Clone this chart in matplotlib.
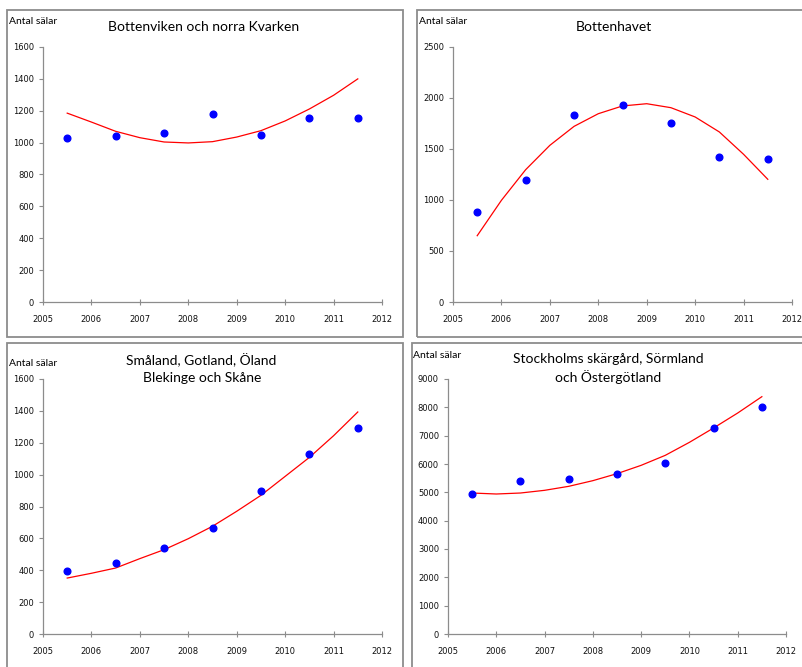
import numpy as np
import matplotlib.pyplot as plt
from matplotlib.patches import Rectangle

W, H = 802, 667

# years of the counts (plotted mid-year)
years = [2005.5, 2006.5, 2007.5, 2008.5, 2009.5, 2010.5, 2011.5]
trend_x = [2005.5, 2006, 2006.5, 2007, 2007.5, 2008, 2008.5,
           2009, 2009.5, 2010, 2010.5, 2011, 2011.5]

# Bottenviken och norra Kvarken
bv_counts = [1030, 1040, 1060, 1180, 1045, 1155, 1155]
bv_trend = [1185, 1129, 1071, 1031, 1004, 998, 1006, 1035, 1075, 1136, 1211, 1297, 1400]

# Bottenhavet
bh_counts = [880, 1200, 1830, 1930, 1750, 1420, 1400]
bh_trend = [650, 997, 1297, 1536, 1722, 1846, 1922, 1944, 1905, 1814, 1667, 1448, 1203]

# Småland, Gotland, Öland, Blekinge och Skåne
sg_counts = [393, 443, 540, 665, 899, 1127, 1292]
sg_trend = [351, 381, 414, 473, 529, 598, 676, 770, 870, 989, 1108, 1244, 1393]

# Stockholms skärgård, Sörmland och Östergötland
st_counts = [4930, 5410, 5480, 5650, 6030, 7260, 8010]
st_trend = [4976, 4941, 4976, 5071, 5212, 5412, 5659, 5953, 6306, 6765, 7271, 7800, 8376]

x_ticks = list(range(2005, 2013))

fig = plt.figure(figsize=(W / 100, H / 100), dpi=100)


def px_text(x, y, s, **kw):
    fig.text(x / W, 1 - y / H, s, **kw)


def box(x0, y0, x1, y1):
    fig.patches.append(Rectangle((x0 / W, 1 - y1 / H), (x1 - x0) / W, (y1 - y0) / H,
                                 transform=fig.transFigure, fill=False,
                                 edgecolor='#8c8c8c', linewidth=1.3))


def panel(x0, x1, ytop, ybot, counts, trend, ymax, ystep):
    ax = fig.add_axes([x0 / W, 1 - ybot / H, (x1 - x0) / W, (ybot - ytop) / H])
    ax.plot(trend_x, trend, color='red', linewidth=0.9)
    ax.plot(years, counts, 'o', color='blue', markersize=4.8)
    ax.set_xlim(2005, 2012)
    ax.set_ylim(0, ymax)
    ax.set_xticks(x_ticks)
    ax.set_yticks(np.arange(0, ymax + 1, ystep))
    for s in ['top', 'right']:
        ax.spines[s].set_visible(False)
    for s in ['left', 'bottom']:
        ax.spines[s].set_color('#8c8c8c')
        ax.spines[s].set_linewidth(0.9)
    ax.tick_params(axis='both', labelsize=6, colors='#8c8c8c', labelcolor='#111111',
                   length=3, width=0.8, direction='out')
    ax.tick_params(axis='x', direction='inout', length=4, pad=7)
    return ax


box(7, 10, 403, 337)
box(417, 10, 806, 337)
box(7, 343, 403, 671)
box(412, 343, 806, 671)

panel(43, 382, 47, 302, bv_counts, bv_trend, 1600, 200)
panel(453, 792, 47, 302, bh_counts, bh_trend, 2500, 500)
panel(43, 382, 379, 634, sg_counts, sg_trend, 1600, 200)
panel(448, 786, 379, 634, st_counts, st_trend, 9000, 1000)

tfont = dict(family='Lato', fontsize=10, ha='center', va='center')
px_text(204, 27, 'Bottenviken och norra Kvarken', **tfont)
px_text(614, 27, 'Bottenhavet', **tfont)
px_text(201, 360, 'Småland, Gotland, Öland', **tfont)
px_text(202, 378, 'Blekinge och Skåne', **tfont)
px_text(608, 359, 'Stockholms skärgård, Sörmland', **tfont)
px_text(608, 377, 'och Östergötland', **tfont)

lfont = dict(family='Lato', fontsize=7.5, ha='left', va='center')
px_text(9, 22, 'Antal sälar', **lfont)
px_text(419, 22, 'Antal sälar', **lfont)
px_text(9, 363, 'Antal sälar', **lfont)
px_text(413, 355, 'Antal sälar', **lfont)

fig.savefig('out.png', dpi=100)
